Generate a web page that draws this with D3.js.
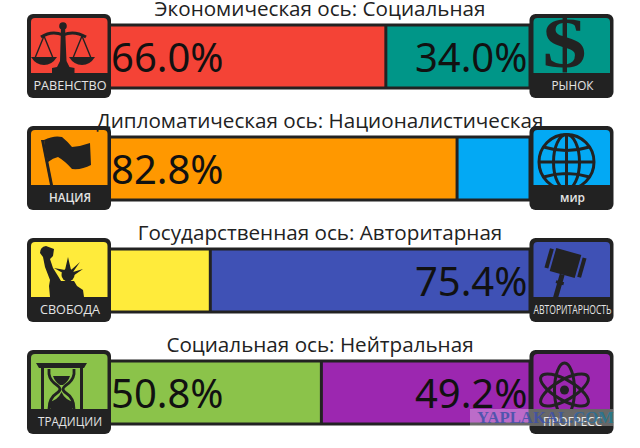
<!DOCTYPE html>
<html><head><meta charset="utf-8">
<style>html,body{margin:0;padding:0;background:#fff}svg{display:block}text{font-family:"Open Sans",sans-serif}</style>
<script src="https://cdnjs.cloudflare.com/ajax/libs/d3/7.8.5/d3.min.js"></script>
</head><body>
<svg id="c" width="640" height="448"></svg>
<script>
const titles = ["Экономическая ось: Социальная","Дипломатическая ось: Националистическая","Государственная ось: Авторитарная","Социальная ось: Нейтральная"];
const leftValues = [66.0, 82.8, 24.6, 50.8];
const rightValues = [34.0, 17.2, 75.4, 49.2];
const leftColors = ["#f44336","#ff9800","#ffeb3b","#8bc34a"];
const rightColors = ["#009688","#03a9f4","#3f51b5","#9c27b0"];
const leftLabels = ["РАВЕНСТВО","НАЦИЯ","СВОБОДА","ТРАДИЦИИ"];
const rightLabels = ["РЫНОК","мир","АВТОРИТАРНОСТЬ","ПРОГРЕСС"];
const leftLabelWidths = [73,42,60,64];
const rightLabelWidths = [42,25,78,59];
const leftIcons = ["scales","flag","statue","hourglass"];
const rightIcons = ["dollar","globe","gavel","atom"];
const minLabel = 30;

const ink = "#222222";
const svg = d3.select("#c");
const x = d3.scaleLinear().domain([0,100]).range([106,530]);
const row = d3.scaleBand().domain(d3.range(titles.length)).range([0,448]);
const barTop = 25, barH = 63, iconS = 84, iconTop = 14, bandY = 59;

const iconDraw = {
  scales(g){
    g.append("circle").attr("cx",36).attr("cy",12).attr("r",3.8).attr("fill",ink);
    g.append("path").attr("fill",ink).attr("d","M34,12h4l1.5,35l3,6l5,1v5H25v-5l5-1l3-6Z");
    g.append("path").attr("fill","none").attr("stroke",ink).attr("stroke-width",3).attr("d","M14,23Q25,16 36,21Q47,16 59,23");
    for(const c of [17,55]){
      g.append("path").attr("fill","none").attr("stroke",ink).attr("stroke-width",1.4).attr("d",`M${c},22L${c-9},44M${c},22L${c+9},44`);
      g.append("path").attr("fill",ink).attr("d",`M${c-13},43H${c+13}Q${c+8},51 ${c},51Q${c-8},51 ${c-13},43Z`);
    }
  },
  flag(g){
    g.append("path").attr("fill",ink).attr("d","M14,14L17,14L26,59H23Z");
    g.append("path").attr("fill",ink).attr("d","M17,14Q27,9 35,11Q40,15 45,21Q55,20 63,17L64,39Q55,44 45,43Q38,35 31,31Q26,32 21,36Q18,25 17,14Z");
  },
  statue(g){
    g.append("path").attr("fill",ink).attr("d","M13,15Q13,9 19,8L27,11L26,18L23,21L26,30L31,38L34,43L47,43L50,48L56,52L57,59H23L22,48L23,42L18,29L16,19Z");
    g.append("circle").attr("cx",41).attr("cy",37).attr("r",6.5).attr("fill",ink);
    g.append("path").attr("fill",ink).attr("d","M41,38L27,30L38,32L41,19L44,32L53,24L46,34L56,31L46,38Z");
  },
  hourglass(g){
    g.append("path").attr("fill",ink).attr("d","M9,13H60L57,18H12Z");
    g.append("path").attr("fill",ink).attr("d","M14,18h3V59h-3ZM53,18h3V59h-3Z");
    g.append("path").attr("fill","none").attr("stroke",ink).attr("stroke-width",2.8).attr("d","M22,19V24Q23,31 31,36Q33,38 33,39Q33,41 30,43Q22,48 22,59M47,19V24Q46,31 38,36Q36,38 36,39Q36,41 39,43Q47,48 47,59");
    g.append("path").attr("fill",ink).attr("d","M26,26H43Q41,32 36,35H33Q28,32 26,26ZM34.5,42Q31,50 22,52Q21,57 24,59H45Q48,57 47,52Q38,50 34.5,42Z");
  },
  dollar(g){
    g.append("text").attr("transform","translate(35,53) scale(1.3,1.06)").attr("text-anchor","middle")
      .style("font-family","'Liberation Serif',serif").style("font-weight",700).style("font-size","68px").attr("fill",ink).text("$");
  },
  globe(g){
    const s = g.append("g").attr("fill","none").attr("stroke",ink).attr("stroke-width",3);
    s.append("circle").attr("cx",37).attr("cy",36).attr("r",27.5);
    s.append("ellipse").attr("cx",37).attr("cy",36).attr("rx",13).attr("ry",27.5);
    s.append("path").attr("d","M37,8.5V64M9.5,36H64.5M14,21Q37,28 60,21M14,51Q37,44 60,51");
  },
  gavel(g){
    const t = g.append("g").attr("transform","translate(36,25) rotate(16)").attr("fill",ink);
    t.append("rect").attr("x",-13).attr("y",-12).attr("width",26).attr("height",24);
    t.append("rect").attr("x",-19).attr("y",-10).attr("width",4).attr("height",20);
    t.append("rect").attr("x",15).attr("y",-10).attr("width",4).attr("height",20);
    t.append("rect").attr("x",-2.5).attr("y",12).attr("width",5).attr("height",24);
    t.append("rect").attr("x",-4).attr("y",19).attr("width",8).attr("height",3);
  },
  atom(g){
    const s = g.append("g").attr("fill","none").attr("stroke",ink).attr("stroke-width",3);
    for(const a of [30,90,150]) s.append("ellipse").attr("cx",35).attr("cy",40).attr("rx",27).attr("ry",10).attr("transform",`rotate(${a} 35 40)`);
    g.append("circle").attr("cx",35).attr("cy",40).attr("r",4.5).attr("fill",ink);
  }
};

function drawIcon(parent, px, color, name, label, w){
  const g = parent.append("g").attr("transform",`translate(${px},${iconTop})`);
  g.append("rect").attr("width",iconS).attr("height",iconS).attr("rx",6).attr("fill",ink);
  g.append("path").attr("fill",color).attr("d",`M4,${bandY}V8Q4,4 8,4H${iconS-7.5}Q${iconS-3.5},4 ${iconS-3.5},8V${bandY}Z`);
  iconDraw[name](g);
  g.append("text").attr("x",43).attr("y",75.5).attr("text-anchor","middle")
    .attr("textLength",w).attr("lengthAdjust","spacingAndGlyphs")
    .style("font-size","13px").style("font-weight",name==="flag"||name==="globe"?600:400)
    .attr("fill","#e4e4e4").text(label);
}

const rows = svg.selectAll("g.row").data(titles).join("g").attr("class","row")
  .attr("transform",(d,i)=>`translate(0,${row(i)})`);

rows.each(function(t,i){
  const g = d3.select(this);
  const split = x(leftValues[i]);
  g.append("rect").attr("x",x(0)).attr("y",barTop).attr("width",split-x(0)).attr("height",barH).attr("fill",leftColors[i]);
  g.append("rect").attr("x",split).attr("y",barTop).attr("width",x(100)-split).attr("height",barH).attr("fill",rightColors[i]);
  g.append("rect").attr("x",x(0)).attr("y",barTop).attr("width",x(100)-x(0)).attr("height",barH).attr("fill","none").attr("stroke",ink).attr("stroke-width",3);
  g.append("line").attr("x1",split).attr("x2",split).attr("y1",barTop).attr("y2",barTop+barH).attr("stroke",ink).attr("stroke-width",3);
  if(leftValues[i]>=minLabel) g.append("text").attr("x",x(0)+5).attr("y",72).style("font-family","'Noto Sans',sans-serif").style("font-size","40px").attr("fill","#111").text(leftValues[i].toFixed(1)+"%");
  if(rightValues[i]>=minLabel) g.append("text").attr("x",x(100)-2.5).attr("y",72).attr("text-anchor","end").style("font-family","'Noto Sans',sans-serif").style("font-size","40px").attr("fill","#111").text(rightValues[i].toFixed(1)+"%");
  drawIcon(g,27,leftColors[i],leftIcons[i],leftLabels[i],leftLabelWidths[i]);
  drawIcon(g,529.5,rightColors[i],rightIcons[i],rightLabels[i],rightLabelWidths[i]);
  g.append("text").attr("x",320).attr("y",15.7).attr("text-anchor","middle").style("font-size","20.65px").attr("fill","#222").text(t);
});

// watermark strip over the last row
const defs = svg.append("defs");
const grad = defs.append("linearGradient").attr("id","wm");
grad.append("stop").attr("offset","0").attr("stop-color","#3f51a8");
grad.append("stop").attr("offset","0.55").attr("stop-color","#3f51a8");
grad.append("stop").attr("offset","1").attr("stop-color","#1f7f8f");
defs.append("clipPath").attr("id","wmc").append("rect").attr("x",470).attr("y",409).attr("width",143.5).attr("height",17);
const wm = svg.append("g").attr("clip-path","url(#wmc)");
wm.append("rect").attr("x",470).attr("y",409).attr("width",143.5).attr("height",17).attr("fill","#fff").attr("opacity",0.32);
wm.append("text").attr("x",477).attr("y",423).attr("textLength",137).attr("lengthAdjust","spacingAndGlyphs")
  .style("font-family","'Liberation Serif',serif").style("font-weight",700).style("font-size","17px").attr("fill","url(#wm)").attr("opacity",0.85).text("YAPLAKAL.COM");
</script>
</body></html>
